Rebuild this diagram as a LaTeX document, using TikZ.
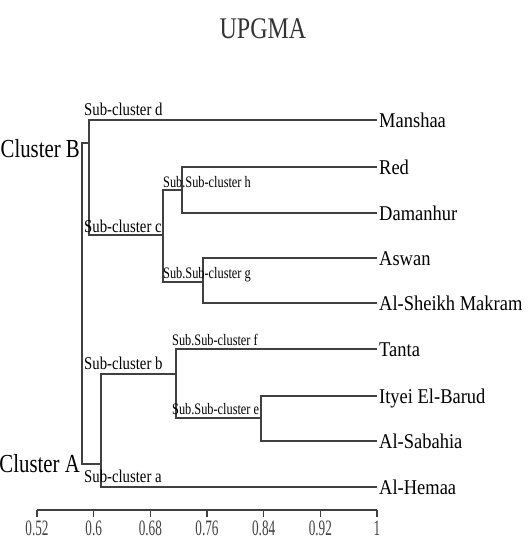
\documentclass[tikz,border=0pt]{standalone}
\usepackage{fontspec}
\usepackage{graphicx}
\setmainfont{Liberation Serif}
\newcommand{\nar}[2]{\scalebox{#1}[1]{#2}}
\tikzset{
  branch/.style={line width=1.2pt, black!75},
  leaf/.style={anchor=west, inner sep=2pt, text height=14pt, text depth=0pt,
    font=\fontsize{21}{21}\selectfont},
  sublbl/.style={anchor=west, inner sep=0pt, text height=12pt, text depth=0pt,
    font=\fontsize{18}{18}\selectfont},
  subsublbl/.style={anchor=west, inner sep=0pt, text height=11pt, text depth=0pt,
    font=\fontsize{16}{16}\selectfont},
  clusterlbl/.style={anchor=base east, inner sep=0pt, font=\fontsize{26}{26}\selectfont},
}
\begin{document}
\begin{tikzpicture}[x=1pt,y=-1pt]
  \useasboundingbox (0,0) rectangle (528,541);
  \node[font=\fontsize{30}{30}\selectfont, text=black!80] (title) at (263,29) {\nar{0.8}{UPGMA}};
  % leaves
  \node[leaf] (manshaa) at (377,120) {\nar{0.88}{Manshaa}};
  \node[leaf] (red) at (377,167) {\nar{0.88}{Red}};
  \node[leaf] (damanhur) at (377,213) {\nar{0.88}{Damanhur}};
  \node[leaf] (aswan) at (377,258) {\nar{0.88}{Aswan}};
  \node[leaf] (sheikh) at (377,303) {\nar{0.88}{Al-Sheikh Makram}};
  \node[leaf] (tanta) at (377,349) {\nar{0.88}{Tanta}};
  \node[leaf] (ityei) at (377,396) {\nar{0.88}{Ityei El-Barud}};
  \node[leaf] (sabahia) at (377,441) {\nar{0.88}{Al-Sabahia}};
  \node[leaf] (hemaa) at (377,487) {\nar{0.88}{Al-Hemaa}};
  % joins
  \coordinate (rt) at (82,303);
  \coordinate (nB) at (89,143);
  \coordinate (nA) at (101,464);
  \coordinate (nc) at (163,235);
  \coordinate (nh) at (182,190);
  \coordinate (ng) at (203,282);
  \coordinate (nb) at (176,374);
  \coordinate (ne) at (261,418);
  \draw[branch] (rt) |- (nB) (rt) |- (nA);
  \draw[branch] (nB) |- (manshaa.west) (nB) |- (nc);
  \draw[branch] (nc) |- (nh) (nc) |- (ng);
  \draw[branch] (nh) |- (red.west) (nh) |- (damanhur.west);
  \draw[branch] (ng) |- (aswan.west) (ng) |- (sheikh.west);
  \draw[branch] (nA) |- (nb) (nA) |- (hemaa.west);
  \draw[branch] (nb) |- (tanta.west) (nb) |- (ne);
  \draw[branch] (ne) |- (ityei.west) (ne) |- (sabahia.west);
  % cluster labels
  \node[clusterlbl] (clB) at (80,157) {\nar{0.8}{Cluster B}};
  \node[clusterlbl] (clA) at (80,472) {\nar{0.8}{Cluster A}};
  \node[sublbl] (scd) at (84,109) {\nar{0.82}{Sub-cluster d}};
  \node[sublbl] (scc) at (84,226) {\nar{0.82}{Sub-cluster c}};
  \node[sublbl] (scb) at (84,363) {\nar{0.82}{Sub-cluster b}};
  \node[sublbl] (sca) at (84,476) {\nar{0.82}{Sub-cluster a}};
  \node[subsublbl] (ssh) at (163,182) {\nar{0.77}{Sub.Sub-cluster h}};
  \node[subsublbl] (ssg) at (163,273) {\nar{0.77}{Sub.Sub-cluster g}};
  \node[subsublbl] (ssf) at (172,340) {\nar{0.77}{Sub.Sub-cluster f}};
  \node[subsublbl] (sse) at (172,409) {\nar{0.77}{Sub.Sub-cluster e}};
  % axis
  \draw[branch] (37,510) -- (377,510);
  \foreach \i/\v in {0/0.52,1/0.6,2/0.68,3/0.76,4/0.84,5/0.92,6/1}
    \draw[branch] (37+56.67*\i,510) -- (37+56.67*\i,517)
      node[below=3pt, inner sep=0pt, font=\fontsize{22}{22}\selectfont] {\nar{0.6}{\v}};
\end{tikzpicture}
\end{document}
